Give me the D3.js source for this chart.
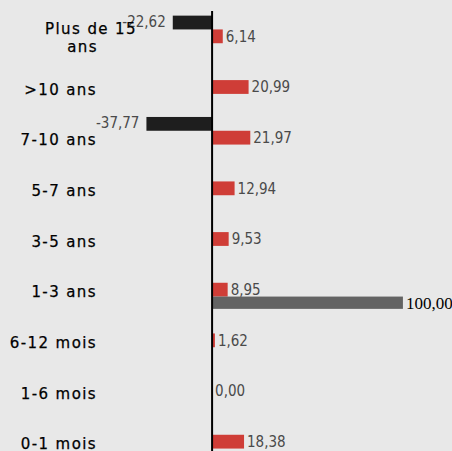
<!DOCTYPE html>
<html>
<head>
<meta charset="utf-8">
<script src="https://cdn.jsdelivr.net/npm/d3@7"></script>
<style>
  html, body { margin: 0; padding: 0; background: #e8e8e8; }
  svg { display: block; }
  .catLabel { font-family: "DejaVu Sans", sans-serif; font-size: 15px; letter-spacing: 1.4px; fill: #000; stroke: #000; stroke-width: 0.25px; }
  .valLabel { font-family: "DejaVu Sans Condensed", "DejaVu Sans", sans-serif; font-stretch: condensed; font-size: 15px; fill: #4a4a4a; }
  .grayLabel { font-family: "Liberation Serif", serif; font-size: 17px; fill: #000; }
</style>
</head>
<body>
<div id="chart"></div>
<script>
// categories (top to bottom)
var categories = ["Plus de 15 ans", ">10 ans", "7-10 ans", "5-7 ans", "3-5 ans", "1-3 ans", "6-12 mois", "1-6 mois", "0-1 mois"];
// series values
var blackValues = [-22.62, null, -37.77, null, null, null, null, null, null];
var redValues = [6.14, 20.99, 21.97, 12.94, 9.53, 8.95, 1.62, 0.00, 18.38];
var grayValues = [null, null, null, null, null, 100.00, null, null, null];

buildChart();

function fmt(v) {
    return v.toFixed(2).replace(".", ",");
}

function buildChart() {
    var svgWidth = 452;
    var svgHeight = 451;

    var svg = d3.select("#chart").append("svg")
        .attr("width", svgWidth)
        .attr("height", svgHeight);

    svg.append("rect")
        .attr("width", svgWidth)
        .attr("height", svgHeight)
        .attr("fill", "#e8e8e8");

    // category bands (chart runs past the bottom edge)
    var yScale = d3.scaleBand()
        .domain(categories)
        .range([11, 467])
        .padding(0);

    // main value scale, zero at x=212
    var xScale = d3.scaleLinear()
        .domain([-122, 138])
        .range([0, svgWidth]);

    // the gray series sits on its own scale
    var xScale2 = d3.scaleLinear()
        .domain([-111, 125.7])
        .range([0, svgWidth]);

    var barH = 13.8;
    var mid = d => yScale(d) + yScale.bandwidth() / 2;

    var rows = categories.map((c, i) => ({
        cat: c,
        black: blackValues[i],
        red: redValues[i],
        gray: grayValues[i]
    }));

    // black bars (above the red one)
    var blackRows = rows.filter(d => d.black != null);
    svg.append("g").selectAll("rect")
        .data(blackRows)
        .enter()
        .append("rect")
        .attr("x", d => xScale(d.black))
        .attr("y", d => mid(d.cat) - barH * 1.5)
        .attr("width", d => xScale(0) - xScale(d.black))
        .attr("height", barH)
        .attr("fill", "#1e1e1e");

    svg.append("g").selectAll("text")
        .data(blackRows)
        .enter()
        .append("text")
        .attr("class", "valLabel")
        .attr("x", d => xScale(d.black) - 7)
        .attr("y", d => mid(d.cat) - barH - 1)
        .attr("dy", "0.35em")
        .attr("text-anchor", "end")
        .text(d => fmt(d.black));

    // red bars (centred on the category)
    var redRows = rows.filter(d => d.red != null);
    svg.append("g").selectAll("rect")
        .data(redRows)
        .enter()
        .append("rect")
        .attr("x", xScale(0))
        .attr("y", d => mid(d.cat) - barH / 2)
        .attr("width", d => xScale(d.red) - xScale(0))
        .attr("height", barH)
        .attr("fill", "#cf3d37");

    svg.append("g").selectAll("text")
        .data(redRows)
        .enter()
        .append("text")
        .attr("class", "valLabel")
        .attr("x", d => xScale(d.red) + 3)
        .attr("y", d => mid(d.cat))
        .attr("dy", "0.35em")
        .text(d => fmt(d.red));

    // gray bars (below the red one)
    var grayRows = rows.filter(d => d.gray != null);
    svg.append("g").selectAll("rect")
        .data(grayRows)
        .enter()
        .append("rect")
        .attr("x", xScale2(0))
        .attr("y", d => mid(d.cat) + barH / 2)
        .attr("width", d => xScale2(d.gray) - xScale2(0))
        .attr("height", barH - 1.5)
        .attr("fill", "#636363");

    svg.append("g").selectAll("text")
        .data(grayRows)
        .enter()
        .append("text")
        .attr("class", "grayLabel")
        .attr("x", d => xScale2(d.gray) + 3)
        .attr("y", d => mid(d.cat) + barH / 2 + 12.6)
        .text(d => fmt(d.gray));

    // category labels
    var labels = svg.append("g").selectAll("text")
        .data(categories)
        .enter()
        .append("text")
        .attr("class", "catLabel")
        .attr("text-anchor", "end");

    labels.each(function(c) {
        var t = d3.select(this);
        if (c === "Plus de 15 ans") {
            // wrapped label
            t.append("tspan").attr("x", 137).attr("y", mid(c) - 2.5).text("Plus de 15");
            t.append("tspan").attr("x", 98).attr("y", mid(c) + 15.3).text("ans");
        } else {
            t.attr("x", 97).attr("y", mid(c) + 7.5).text(c);
        }
    });

    // zero line
    svg.append("line")
        .attr("x1", xScale(0))
        .attr("x2", xScale(0))
        .attr("y1", yScale.range()[0])
        .attr("y2", yScale.range()[1])
        .attr("stroke", "#000")
        .attr("stroke-width", 2);
}
</script>
</body>
</html>
